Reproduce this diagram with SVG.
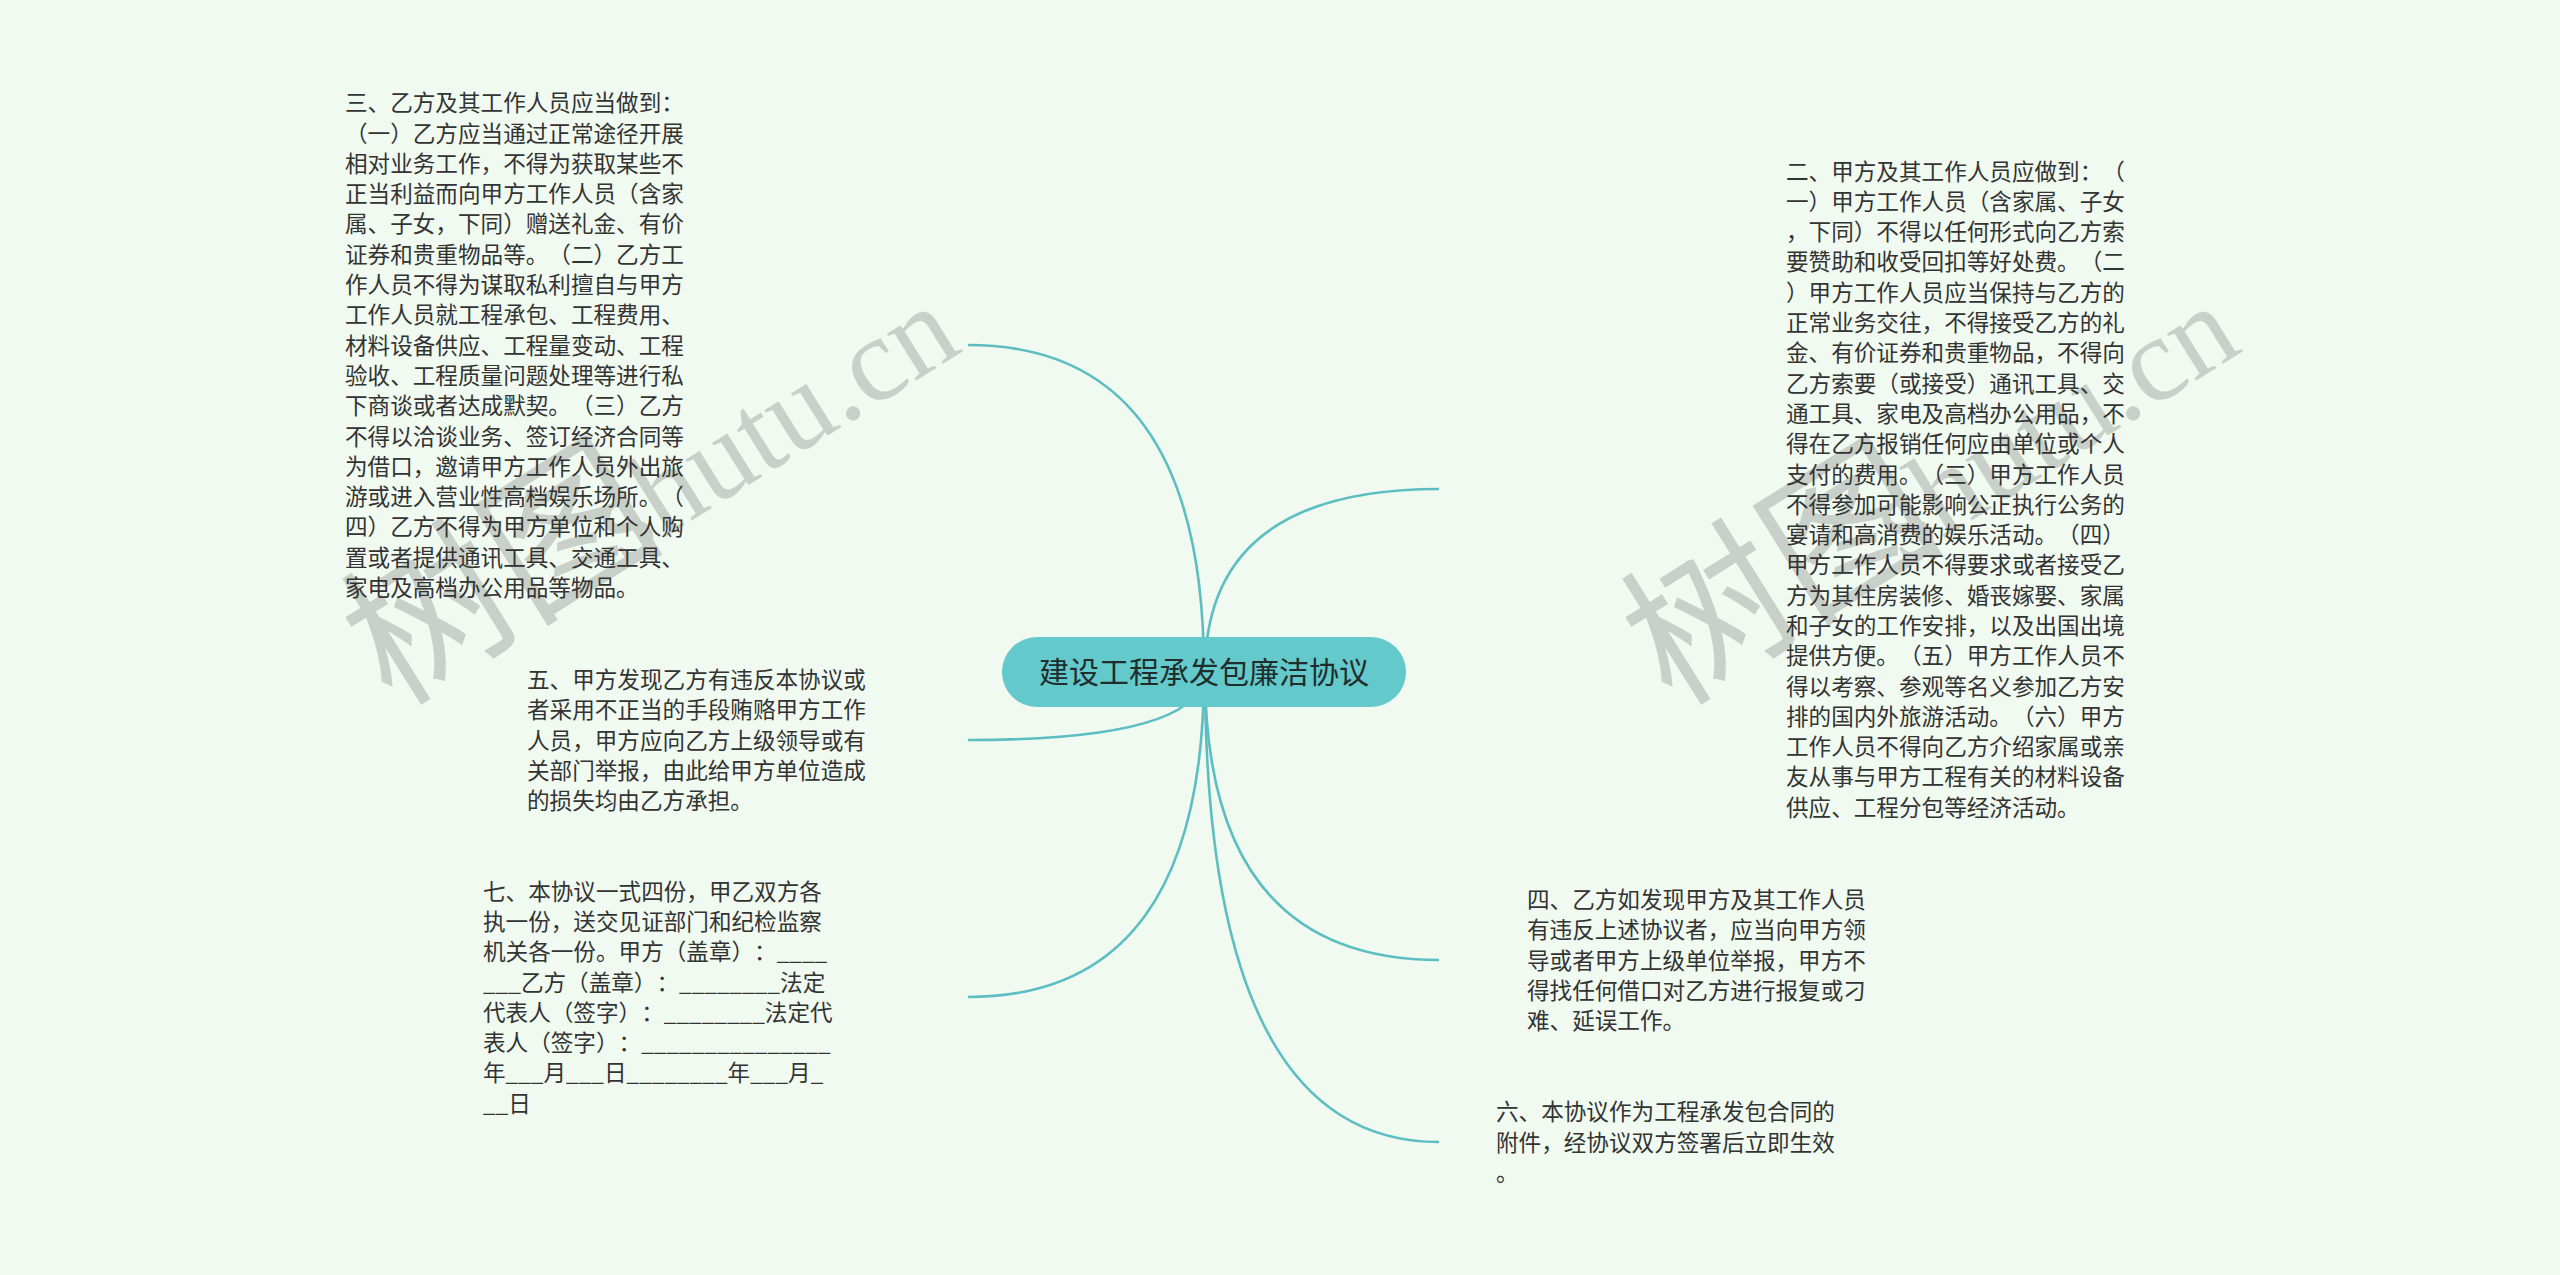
<svg xmlns="http://www.w3.org/2000/svg" width="2560" height="1275" viewBox="0 0 2560 1275">
<style>
.bg{fill:#f0faf0}
.t{font-family:"Noto Sans CJK SC","Noto Sans",sans-serif;font-size:22.6px;fill:#333333;text-spacing-trim:space-all}
.wm{font-family:"Liberation Serif","Noto Sans CJK SC",serif;font-size:120px;fill:#c9d0c9}
.wmc{font-size:162px}
.link{fill:none;stroke:#5dbec2;stroke-width:2.6}
.root{fill:#63c9cb}
.rt{font-family:"Noto Sans CJK SC","Noto Sans",sans-serif;font-size:30px;fill:#1f2d2d}
</style>
<rect class="bg" x="0" y="0" width="2560" height="1275"/>
<g id="watermarks">
<text class="wm" transform="translate(392,708) rotate(-32)"><tspan class="wmc">树图</tspan><tspan dx="-52">shutu.cn</tspan></text>
<text class="wm" transform="translate(1672,708) rotate(-32)"><tspan class="wmc">树图</tspan><tspan dx="-52">shutu.cn</tspan></text>
</g>
<g id="connectors">
<path class="link" d="M1204 672 Q1204 345 968 345"/>
<path class="link" d="M1204 672 Q1204 740 968 740"/>
<path class="link" d="M1204 672 Q1204 997 968 997"/>
<path class="link" d="M1205 672 Q1205 489 1439 489"/>
<path class="link" d="M1205 672 Q1205 960 1439 960"/>
<path class="link" d="M1205 672 Q1205 1142 1439 1142"/>
</g>
<g id="root">
<rect class="root" x="1002" y="637" width="404" height="70" rx="35" ry="35"/>
<text class="rt" x="1204" y="683.4" text-anchor="middle">建设工程承发包廉洁协议</text>
</g>
<g id="node-3">
<text class="t" x="345" y="111.2">
<tspan x="345">三、乙方及其工作人员应当做到：</tspan>
<tspan x="345" dy="30.3">（一）乙方应当通过正常途径开展</tspan>
<tspan x="345" dy="30.3">相对业务工作，不得为获取某些不</tspan>
<tspan x="345" dy="30.3">正当利益而向甲方工作人员（含家</tspan>
<tspan x="345" dy="30.3">属、子女，下同）赠送礼金、有价</tspan>
<tspan x="345" dy="30.3">证券和贵重物品等。（二）乙方工</tspan>
<tspan x="345" dy="30.3">作人员不得为谋取私利擅自与甲方</tspan>
<tspan x="345" dy="30.3">工作人员就工程承包、工程费用、</tspan>
<tspan x="345" dy="30.3">材料设备供应、工程量变动、工程</tspan>
<tspan x="345" dy="30.3">验收、工程质量问题处理等进行私</tspan>
<tspan x="345" dy="30.3">下商谈或者达成默契。（三）乙方</tspan>
<tspan x="345" dy="30.3">不得以洽谈业务、签订经济合同等</tspan>
<tspan x="345" dy="30.3">为借口，邀请甲方工作人员外出旅</tspan>
<tspan x="345" dy="30.3">游或进入营业性高档娱乐场所。（</tspan>
<tspan x="345" dy="30.3">四）乙方不得为甲方单位和个人购</tspan>
<tspan x="345" dy="30.3">置或者提供通讯工具、交通工具、</tspan>
<tspan x="345" dy="30.3">家电及高档办公用品等物品。</tspan>
</text>
</g>
<g id="node-5">
<text class="t" x="527" y="688">
<tspan x="527">五、甲方发现乙方有违反本协议或</tspan>
<tspan x="527" dy="30.3">者采用不正当的手段贿赂甲方工作</tspan>
<tspan x="527" dy="30.3">人员，甲方应向乙方上级领导或有</tspan>
<tspan x="527" dy="30.3">关部门举报，由此给甲方单位造成</tspan>
<tspan x="527" dy="30.3">的损失均由乙方承担。</tspan>
</text>
</g>
<g id="node-7">
<text class="t" x="483" y="899.6">
<tspan x="483">七、本协议一式四份，甲乙双方各</tspan>
<tspan x="483" dy="30.3">执一份，送交见证部门和纪检监察</tspan>
<tspan x="483" dy="30.3">机关各一份。甲方（盖章）：____</tspan>
<tspan x="483" dy="30.3">___乙方（盖章）：________法定</tspan>
<tspan x="483" dy="30.3">代表人（签字）：________法定代</tspan>
<tspan x="483" dy="30.3">表人（签字）：_______________</tspan>
<tspan x="483" dy="30.3">年___月___日________年___月_</tspan>
<tspan x="483" dy="30.3">__日</tspan>
</text>
</g>
<g id="node-2">
<text class="t" x="1786" y="179.5">
<tspan x="1786">二、甲方及其工作人员应做到：（</tspan>
<tspan x="1786" dy="30.3">一）甲方工作人员（含家属、子女</tspan>
<tspan x="1786" dy="30.3">，下同）不得以任何形式向乙方索</tspan>
<tspan x="1786" dy="30.3">要赞助和收受回扣等好处费。（二</tspan>
<tspan x="1786" dy="30.3">）甲方工作人员应当保持与乙方的</tspan>
<tspan x="1786" dy="30.3">正常业务交往，不得接受乙方的礼</tspan>
<tspan x="1786" dy="30.3">金、有价证券和贵重物品，不得向</tspan>
<tspan x="1786" dy="30.3">乙方索要（或接受）通讯工具、交</tspan>
<tspan x="1786" dy="30.3">通工具、家电及高档办公用品，不</tspan>
<tspan x="1786" dy="30.3">得在乙方报销任何应由单位或个人</tspan>
<tspan x="1786" dy="30.3">支付的费用。（三）甲方工作人员</tspan>
<tspan x="1786" dy="30.3">不得参加可能影响公正执行公务的</tspan>
<tspan x="1786" dy="30.3">宴请和高消费的娱乐活动。（四）</tspan>
<tspan x="1786" dy="30.3">甲方工作人员不得要求或者接受乙</tspan>
<tspan x="1786" dy="30.3">方为其住房装修、婚丧嫁娶、家属</tspan>
<tspan x="1786" dy="30.3">和子女的工作安排，以及出国出境</tspan>
<tspan x="1786" dy="30.3">提供方便。（五）甲方工作人员不</tspan>
<tspan x="1786" dy="30.3">得以考察、参观等名义参加乙方安</tspan>
<tspan x="1786" dy="30.3">排的国内外旅游活动。（六）甲方</tspan>
<tspan x="1786" dy="30.3">工作人员不得向乙方介绍家属或亲</tspan>
<tspan x="1786" dy="30.3">友从事与甲方工程有关的材料设备</tspan>
<tspan x="1786" dy="30.3">供应、工程分包等经济活动。</tspan>
</text>
</g>
<g id="node-4">
<text class="t" x="1527" y="908">
<tspan x="1527">四、乙方如发现甲方及其工作人员</tspan>
<tspan x="1527" dy="30.3">有违反上述协议者，应当向甲方领</tspan>
<tspan x="1527" dy="30.3">导或者甲方上级单位举报，甲方不</tspan>
<tspan x="1527" dy="30.3">得找任何借口对乙方进行报复或刁</tspan>
<tspan x="1527" dy="30.3">难、延误工作。</tspan>
</text>
</g>
<g id="node-6">
<text class="t" x="1496" y="1120.3">
<tspan x="1496">六、本协议作为工程承发包合同的</tspan>
<tspan x="1496" dy="30.3">附件，经协议双方签署后立即生效</tspan>
<tspan x="1496" dy="30.3">。</tspan>
</text>
</g>
</svg>
